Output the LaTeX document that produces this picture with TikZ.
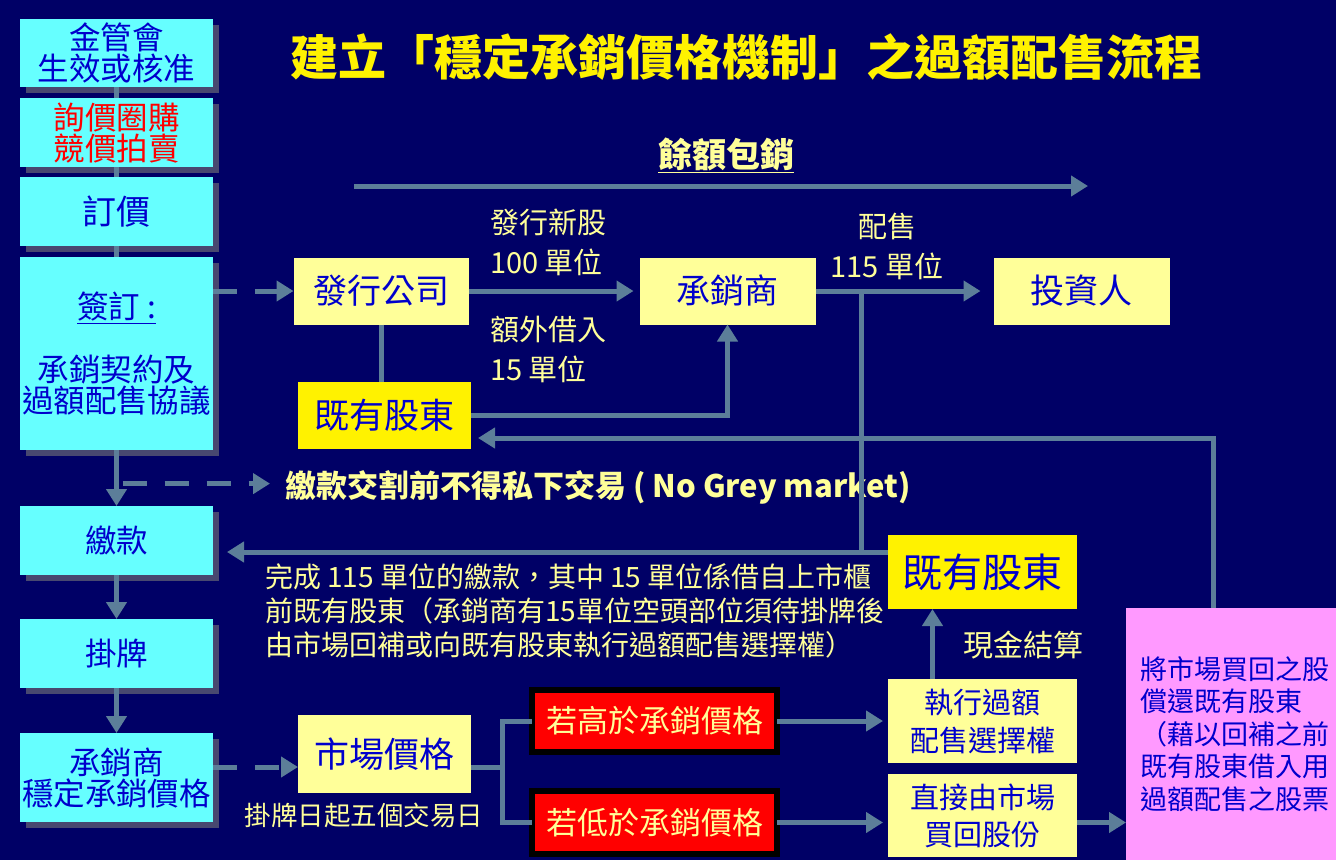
\documentclass[tikz,border=0pt]{standalone}
\usepackage{fontspec}
\setmainfont{Noto Sans CJK TC}
\definecolor{NavyBg}{RGB}{0,0,102}
\definecolor{BoxCyan}{RGB}{102,255,255}
\definecolor{PaleYellow}{RGB}{255,255,153}
\definecolor{InkBlue}{RGB}{0,0,204}
\definecolor{SteelLine}{RGB}{92,126,153}
\definecolor{ShadowGrey}{RGB}{72,72,112}
\definecolor{PinkBox}{RGB}{255,153,255}
\usetikzlibrary{arrows.meta,positioning,calc,shadows}

\begin{document}
\begin{tikzpicture}[
    x=1pt, y=-1pt,
    every node/.style={inner sep=0pt, outer sep=0pt},
    stepbox/.style={rectangle, fill=BoxCyan, text=InkBlue, minimum width=193pt, align=center, font=\fontsize{31.5}{31}\selectfont, drop shadow={shadow xshift=6pt, shadow yshift=-6pt, fill=ShadowGrey, opacity=1}},
    partybox/.style={rectangle, fill=PaleYellow, text=InkBlue, align=center, font=\fontsize{34}{34}\selectfont},
    pricebox/.style={rectangle, draw=black, line width=6pt, fill=red, text=PaleYellow, minimum width=245pt, minimum height=62pt, font=\fontsize{31}{31}\selectfont},
    note/.style={text=PaleYellow, font=\fontsize{29}{40}\selectfont},
    link/.style={line width=5pt, SteelLine},
    arrow/.style={link, -{Triangle[length=17pt,width=20pt]}},
    dasharrow/.style={arrow, dash pattern=on 24pt off 18pt}
  ]
    \useasboundingbox (0,0) rectangle (1336,860);
    \fill[NavyBg] (0,0) rectangle (1336,860);

    \node[text=yellow, font=\fontsize{48}{48}\selectfont\bfseries] (title) at (746,57) {建立「穩定承銷價格機制」之過額配售流程};

    \node[stepbox, minimum height=68pt] (approve) at (116.5,53) {金管會\\生效或核准};
    \node[stepbox, minimum height=69pt, text=red, below=11pt of approve] (bookbuild) {詢價圈購\\競價拍賣};
    \node[stepbox, minimum height=69pt, font=\fontsize{34}{34}\selectfont, below=10pt of bookbuild] (pricing) {訂價};
    \node[stepbox, minimum height=193pt, below=11pt of pricing] (signing) {\underline{簽訂 :}\\[30pt]承銷契約及\\過額配售協議};
    \node[stepbox, minimum height=69pt, below=56pt of signing] (payment) {繳款};
    \node[stepbox, minimum height=69pt, below=44pt of payment] (listing) {掛牌};
    \node[stepbox, minimum height=89pt, below=45pt of listing] (stabilise) {承銷商\\穩定承銷價格};

    \node[partybox, minimum width=175pt, minimum height=67pt] (issuer) at (381,291) {發行公司};
    \node[partybox, minimum width=176pt, minimum height=67pt, right=171pt of issuer] (uw) {承銷商};
    \node[partybox, minimum width=176pt, minimum height=67pt, right=178pt of uw] (investor) {投資人};
    \node[partybox, fill=yellow, minimum width=173pt, minimum height=67pt, font=\fontsize{35}{35}\selectfont] (holders) at (384.5,415.5) {既有股東};
    \node[partybox, fill=yellow, minimum width=189pt, minimum height=74pt, font=\fontsize{40}{40}\selectfont] (oldholders) at (982.5,572) {既有股東};
    \node[partybox, minimum width=189pt, minimum height=84pt, font=\fontsize{29}{38}\selectfont] (exercise) at (982.5,721) {執行過額\\配售選擇權};
    \node[partybox, minimum width=189pt, minimum height=83pt, font=\fontsize{29}{37}\selectfont] (buyback) at (982.5,815.5) {直接由市場\\買回股份};
    \node[partybox, fill=PinkBox, text width=192pt, inner xsep=14pt, minimum height=252pt, align=left, font=\fontsize{27}{32.5}\selectfont] (repay) at (1236,734) {將市場買回之股\\償還既有股東\\（藉以回補之前\\既有股東借入用\\過額配售之股票};
    \node[partybox, minimum width=173pt, minimum height=78pt, font=\fontsize{35}{35}\selectfont] (market) at (384.5,754) {市場價格};
    \node[pricebox] (high) at (654.5,721) {若高於承銷價格};
    \node[pricebox, minimum height=63pt] (low) at (654.5,822.5) {若低於承銷價格};

    \node[note, anchor=west, align=left] (newshares) at (490,242) {發行新股\\100 單位};
    \node[note, anchor=west, align=left] (borrowed) at (490,349) {額外借入\\15 單位};
    \node[note, align=center] (allot) at (887,246) {配售\\115 單位};
    \node[note, font=\fontsize{34}{34}\selectfont\bfseries] (surplus) at (726,155) {\underline{餘額包銷}};
    \node[note, anchor=west, inner xsep=15pt, font=\fontsize{31}{31}\selectfont\bfseries] (nogrey) at (270,487) {繳款交割前不得私下交易 ( No Grey market)};
    \node[note, anchor=west, align=left, font=\fontsize{28}{34}\selectfont] (paynote) at (265,611) {完成 115 單位的繳款，其中 15 單位係借自上市櫃\\前既有股東（承銷商有15單位空頭部位須待掛牌後\\由市場回補或向既有股東執行過額配售選擇權）};
    \node[note, font=\fontsize{26.5}{26.5}\selectfont] (window) at (364,815) {掛牌日起五個交易日};
    \node[note, font=\fontsize{30}{30}\selectfont] (cash) at (1023,645) {現金結算};

    \draw[link] (approve) -- (bookbuild);
    \draw[link] (bookbuild) -- (pricing);
    \draw[link] (pricing) -- (signing);
    \draw[arrow] (signing) -- (payment);
    \draw[arrow] (payment) -- (listing);
    \draw[arrow] (listing) -- (stabilise);

    \draw[dasharrow] (signing.east |- issuer) -- (issuer);
    \coordinate (gate) at ($(signing.south)!0.6!(payment.north)$);
    \draw[dasharrow] ([xshift=6pt]gate) -- (gate -| nogrey.west);
    \draw[dasharrow] ([yshift=10.5pt]stabilise.east) -- ([yshift=10.5pt]stabilise.east -| market.west);

    \coordinate (sStart) at (354,186);
    \coordinate (sEnd) at (1088,186);
    \draw[arrow] (sStart) -- (sEnd);

    \draw[arrow, shorten >=6pt] (issuer) -- (uw);
    \draw[arrow, shorten >=13pt] (uw) -- (investor);
    \draw[link] (issuer) -- (issuer.south |- holders.north);
    \draw[arrow] (holders) -| (uw);

    \coordinate (tap) at (861,291);
    \coordinate (paid) at ([yshift=20pt]oldholders.west);
    \draw[link] (tap) -- (tap |- paid);
    \draw[arrow, shorten >=14pt] (paid) -- (paid -| payment.east);

    \coordinate (back) at ([xshift=-23pt]repay.north);
    \draw[arrow, shorten >=7pt] (back) |- ([yshift=-22.5pt]holders.east);

    \draw[link] ([yshift=-13pt]market.east) -- ++(31,0) coordinate (fork);
    \draw[link] (fork) |- (high);
    \draw[link] (fork) |- (low);
    \draw[arrow, shorten >=5pt] (high) -- (high -| exercise.west);
    \draw[arrow, shorten >=5pt] (low) -- (low -| buyback.west);
    \draw[arrow] (buyback.east |- low) -- (repay.west |- low);
    \draw[arrow] ([xshift=-50pt]exercise.north) -- ([xshift=-50pt]oldholders.south);
  \end{tikzpicture}
\end{document}
